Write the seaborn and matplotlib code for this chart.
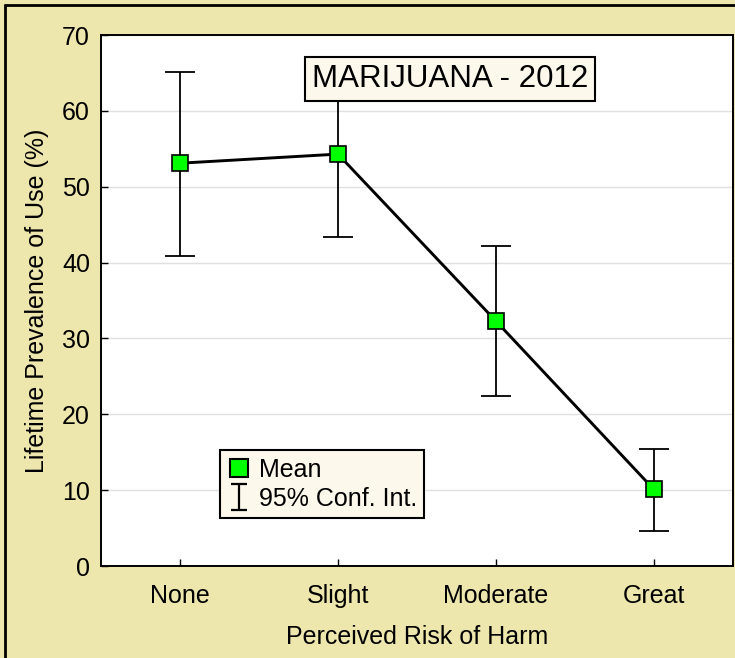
import matplotlib
matplotlib.use("Agg")
import matplotlib.pyplot as plt
from matplotlib.lines import Line2D
from matplotlib.path import Path
import seaborn as sns
import pandas as pd

sns.set_theme(style="white")
plt.rcParams['font.family'] = ['Liberation Sans', 'DejaVu Sans']
plt.rcParams['text.color'] = 'black'
plt.rcParams['axes.labelcolor'] = 'black'

# data
risk = ["None", "Slight", "Moderate", "Great"]
mean_use = [53.1, 54.3, 32.3, 10.1]
ci_low = [40.9, 43.4, 22.4, 4.6]
ci_high = [65.1, 65.2, 42.2, 15.4]

df = pd.DataFrame({"risk": risk, "mean": mean_use})

bg = "#ede6ad"
fig = plt.figure(figsize=(7.35, 6.58), dpi=100, facecolor=bg)
ax = fig.add_axes([0.1374, 0.1398, 0.8596, 0.807])
ax.set_facecolor("white")

# confidence intervals
yerr = [[m - lo for m, lo in zip(mean_use, ci_low)],
        [hi - m for m, hi in zip(mean_use, ci_high)]]
ax.errorbar(risk, mean_use, yerr=yerr, fmt="none", ecolor="black",
            elinewidth=1.3, capsize=10.5, capthick=1.3, zorder=2)

sns.lineplot(data=df, x="risk", y="mean", ax=ax, color="black", linewidth=2.1,
             marker="s", markersize=11, markerfacecolor="#00ff00",
             markeredgecolor="black", markeredgewidth=1.2, zorder=3)

ax.set_xlim(-0.5, 3.5)
ax.set_ylim(0, 70)
ax.set_yticks(range(0, 71, 10))
ax.grid(axis="y", color="#e0e0e0", linewidth=1)
ax.set_axisbelow(True)
for s in ax.spines.values():
    s.set_color("black")
    s.set_linewidth(1.4)
ax.tick_params(axis="both", direction="in", length=5, width=1, colors="black",
               labelsize=18, left=True, bottom=True)
ax.tick_params(axis="x", pad=13)
ax.tick_params(axis="y", pad=8)
ax.set_xlabel("Perceived Risk of Harm", fontsize=18, labelpad=12)
ax.set_ylabel("Lifetime Prevalence of Use (%)", fontsize=18, labelpad=9)

ax.text(0.553, 0.917, "MARIJUANA - 2012", transform=ax.transAxes, fontsize=22.5,
        ha="center", va="center", zorder=5,
        bbox=dict(boxstyle="square,pad=0.22", fc="#fdf8ec", ec="black", lw=1.5))

# legend handles: green square and a small "I" for the interval
i_path = Path([(-0.6, -1), (0.6, -1), (0, -1), (0, 1), (-0.6, 1), (0.6, 1)],
              [Path.MOVETO, Path.LINETO, Path.MOVETO, Path.LINETO,
               Path.MOVETO, Path.LINETO])
mean_handle = Line2D([], [], linestyle="none", marker="s", markersize=13,
                     markerfacecolor="#00ff00", markeredgecolor="black",
                     markeredgewidth=1.5)
ci_handle = Line2D([], [], linestyle="none", marker=i_path, markersize=19,
                   markerfacecolor="none", markeredgecolor="black",
                   markeredgewidth=1.6)
leg = ax.legend([mean_handle, ci_handle], ["Mean", "95% Conf. Int."],
                loc="lower left", bbox_to_anchor=(0.188, 0.09), fontsize=18,
                frameon=True, fancybox=False, framealpha=1,
                facecolor="#fdf8ec", edgecolor="black", handlelength=0.9,
                handletextpad=0.35, borderpad=0.3, labelspacing=0.2,
                borderaxespad=0)
leg.get_frame().set_linewidth(1.5)

# figure border (left and top visible)
fig.add_artist(Line2D([0.007, 0.007], [0, 0.993], color="black", lw=2,
                      transform=fig.transFigure))
fig.add_artist(Line2D([0.007, 1], [0.993, 0.993], color="black", lw=2,
                      transform=fig.transFigure))

fig.savefig("out.png", dpi=100, facecolor=bg)
